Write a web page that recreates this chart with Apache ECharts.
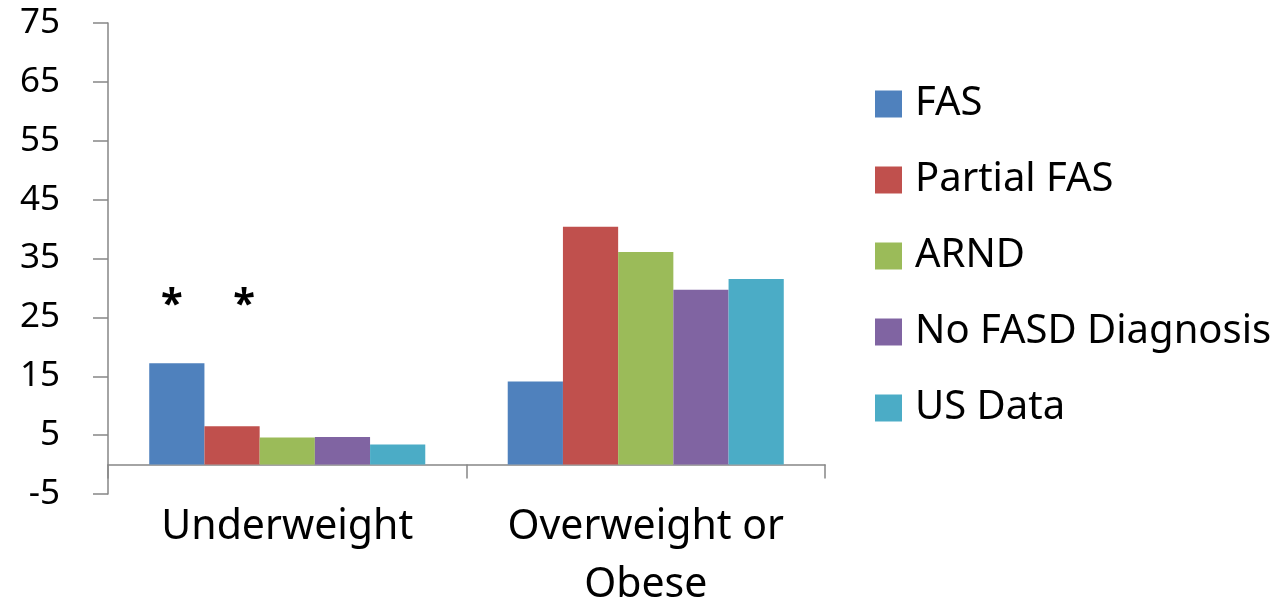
<!DOCTYPE html>
<html>
<head>
<meta charset="utf-8">
<script src="https://cdn.jsdelivr.net/npm/echarts@6/dist/echarts.min.js"></script>
<style>
  html, body { margin: 0; padding: 0; background: #fff; }
  #chart { width: 1284px; height: 604px; }
</style>
</head>
<body>
<div id="chart"></div>
<script>
// Weight categories (percent of children in each group)
const categories = ['Underweight', 'Overweight or\nObese'];
const seriesNames = ['FAS', 'Partial FAS', 'ARND', 'No FASD Diagnosis', 'US Data'];
const fas = [17.2, 14.1];
const partialFas = [6.5, 40.4];
const arnd = [4.6, 36.1];
const noFasd = [4.7, 29.7];
const usData = [3.4, 31.5];
const yTicks = { min: -5, max: 75, step: 10 };
// Significance markers above the Underweight group
const starValue = 28.3;

const colors = ['#4F81BD', '#C0504D', '#9BBB59', '#8064A2', '#4BACC6'];
const values = [fas, partialFas, arnd, noFasd, usData];
const FONT = 'Noto Sans';

const chart = echarts.init(document.getElementById('chart'), null, { renderer: 'canvas' });

const series = seriesNames.map((name, i) => ({
  name,
  type: 'bar',
  data: values[i],
  barGap: '0%',
  barCategoryGap: '23%',
  itemStyle: { color: colors[i] },
  animation: false
}));

// Asterisks over the FAS and Partial FAS bars
function starPoint(dx) {
  return {
    symbol: 'rect',
    symbolSize: 1,
    itemStyle: { color: 'rgba(0,0,0,0)' },
    silent: true,
    label: {
      show: true,
      position: 'inside',
      formatter: '*',
      fontFamily: FONT,
      fontSize: 40,
      fontWeight: 'bold',
      color: '#000',
      offset: [dx, 8]
    },
    data: [{ coord: [categories[0], starValue] }]
  };
}
series[0].markPoint = starPoint(-5);
series[1].markPoint = starPoint(12);

chart.setOption({
  animation: false,
  backgroundColor: '#fff',
  grid: { left: 108, right: 459, top: 23, bottom: 110, containLabel: false, outerBoundsMode: 'none' },
  legend: {
    orient: 'vertical',
    left: 875,
    top: 84,
    padding: 0,
    itemWidth: 27,
    itemHeight: 27,
    itemGap: 36,
    icon: 'rect',
    textStyle: { fontFamily: FONT, fontSize: 40, color: '#000', padding: [0, 0, 0, 8] },
    data: seriesNames
  },
  xAxis: {
    type: 'category',
    data: categories,
    axisLine: { onZero: true, lineStyle: { color: '#868686', width: 1.5 } },
    axisTick: { show: true, length: 14, lineStyle: { color: '#868686', width: 1.5 } },
    axisLabel: {
      fontFamily: FONT, fontSize: 41, color: '#000',
      lineHeight: 58, margin: 4, interval: 0
    },
    splitLine: { show: false }
  },
  yAxis: {
    type: 'value',
    min: yTicks.min,
    max: yTicks.max,
    interval: yTicks.step,
    axisLine: { show: true, lineStyle: { color: '#868686', width: 1.5 } },
    axisTick: { show: true, length: 15, lineStyle: { color: '#868686', width: 1.5 } },
    axisLabel: { fontFamily: FONT, fontSize: 35, color: '#000', margin: 48 },
    splitLine: { show: false }
  },
  series
});
</script>
</body>
</html>
